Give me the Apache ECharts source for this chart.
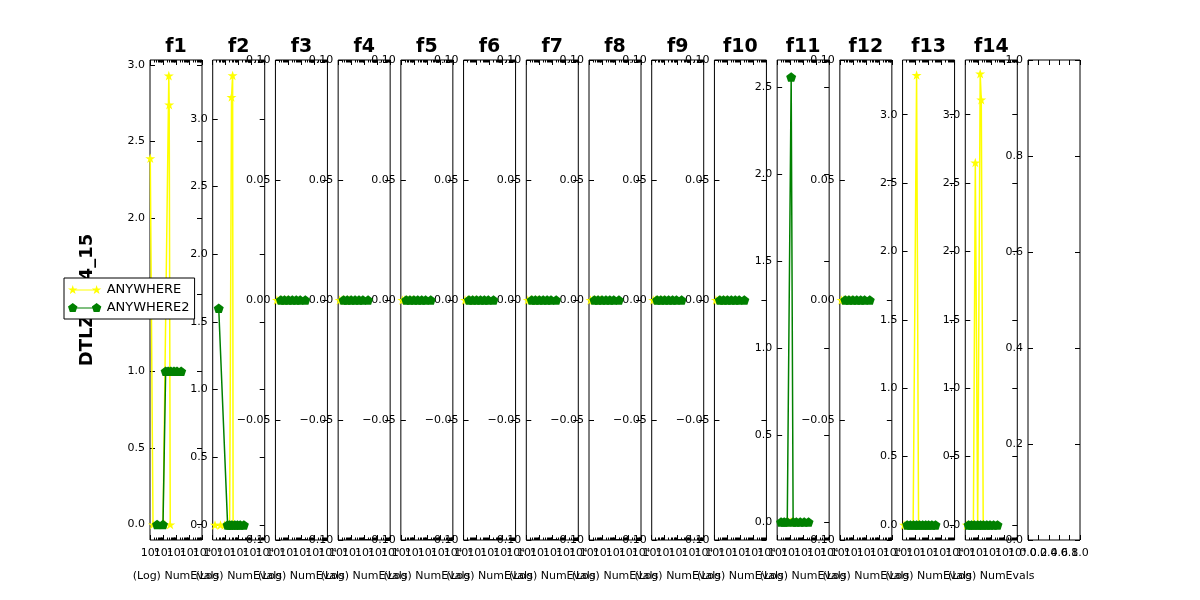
<!DOCTYPE html>
<html><head><meta charset="utf-8">
<script src="https://cdn.jsdelivr.net/npm/echarts@6/dist/echarts.min.js"></script>
<style>html,body{margin:0;padding:0;background:#fff}#c{width:1200px;height:600px}</style>
</head><body><div id="c"></div>
<script>
// ---------------- data ----------------
const panelTitles = ['f1','f2','f3','f4','f5','f6','f7','f8','f9','f10','f11','f12','f13','f14'];
const seriesNames = ['ANYWHERE','ANYWHERE2'];
const xTickLabels = ['10\u2070','10\u00b9','10\u00b2','10\u00b3','10\u2074'];
const xAxisName = '(Log) NumEvals';
const figureLabel = 'DTLZ10_4_15';

// [numEvals, value] pairs
const f1Anywhere  = [[1.05,2.39],[1.7,0],[10,0],[14,0],[28,2.93],[30,2.74],[36,0]];
const f1Anywhere2 = [[3.5,0],[10,0],[16,1],[25,1],[40,1],[70,1],[120,1],[250,1]];
const f2Anywhere  = [[1.5,0],[4,0],[8,0],[20,0],[28,3.16],[34,3.32],[37,0]];
const f2Anywhere2 = [[2.9,1.6],[14,0],[20,0],[30,0],[50,0],[80,0],[130,0],[250,0]];
const f3Anywhere  = [[1.3,0],[2,0],[3,0],[5,0],[8,0]];
const f3Anywhere2 = [[2.6,0],[5,0],[10,0],[20,0],[40,0],[80,0],[200,0]];
const f4Anywhere  = [[1.3,0],[2,0],[3,0],[5,0],[8,0]];
const f4Anywhere2 = [[2.6,0],[5,0],[10,0],[20,0],[40,0],[80,0],[200,0]];
const f5Anywhere  = [[1.3,0],[2,0],[3,0],[5,0],[8,0]];
const f5Anywhere2 = [[2.6,0],[5,0],[10,0],[20,0],[40,0],[80,0],[200,0]];
const f6Anywhere  = [[1.3,0],[2,0],[3,0],[5,0],[8,0]];
const f6Anywhere2 = [[2.6,0],[5,0],[10,0],[20,0],[40,0],[80,0],[200,0]];
const f7Anywhere  = [[1.3,0],[2,0],[3,0],[5,0],[8,0]];
const f7Anywhere2 = [[2.6,0],[5,0],[10,0],[20,0],[40,0],[80,0],[200,0]];
const f8Anywhere  = [[1.3,0],[2,0],[3,0],[5,0],[8,0]];
const f8Anywhere2 = [[2.6,0],[5,0],[10,0],[20,0],[40,0],[80,0],[200,0]];
const f9Anywhere  = [[1.3,0],[2,0],[3,0],[5,0],[8,0]];
const f9Anywhere2 = [[2.6,0],[5,0],[10,0],[20,0],[40,0],[80,0],[200,0]];
const f10Anywhere  = [[1.3,0],[2,0],[3,0],[5,0],[8,0]];
const f10Anywhere2 = [[2.6,0],[5,0],[10,0],[20,0],[40,0],[80,0],[200,0]];
const f11Anywhere  = [[8,0],[11,0],[13,0]];
const f11Anywhere2 = [[2,0],[3.5,0],[6,0],[12,2.557],[17,0],[30,0],[60,0],[120,0],[260,0]];
const f12Anywhere  = [[1.3,0],[2,0],[3,0],[5,0],[8,0]];
const f12Anywhere2 = [[2.6,0],[5,0],[10,0],[20,0],[40,0],[80,0],[200,0]];
const f13Anywhere  = [[1.3,0],[2,0],[6.5,0],[12,3.29],[17,0],[20,0]];
const f13Anywhere2 = [[2.3,0],[4,0],[7,0],[12,0],[20,0],[35,0],[60,0],[100,0],[180,0],[340,0]];
const f14Anywhere  = [[1.3,0],[2,0],[4.2,0],[5.9,2.65],[9,0],[14,3.30],[17,3.11],[24,0]];
const f14Anywhere2 = [[1.8,0],[3,0],[5,0],[9,0],[15,0],[25,0],[45,0],[80,0],[150,0],[300,0]];

// y-axis ranges and tick values per panel (f1..f14, then empty 15th panel)
const yMin = [-0.101,-0.111,-0.1,-0.1,-0.1,-0.1,-0.1,-0.1,-0.1,-0.1,-0.103,-0.1,-0.11,-0.11,0];
const yMax = [3.032,3.434,0.1,0.1,0.1,0.1,0.1,0.1,0.1,0.1,2.655,0.1,3.40,3.40,1];
const yTicksA = [0,0.5,1,1.5,2,2.5,3];
const yTicksZero = [-0.1,-0.05,0,0.05,0.1];
const yTicksF11 = [0,0.5,1,1.5,2,2.5];
const yTicksUnit = [0,0.2,0.4,0.6,0.8,1];
const yTickSets = [yTicksA,yTicksA,yTicksZero,yTicksZero,yTicksZero,yTicksZero,yTicksZero,yTicksZero,yTicksZero,yTicksZero,yTicksF11,yTicksZero,yTicksA,yTicksA,yTicksUnit];
const yDecimals = [1,1,2,2,2,2,2,2,2,2,1,2,1,1,1];
const xTicksUnit = [0,0.2,0.4,0.6,0.8,1];
const xDecadeExps = [0,1,2,3,4];

const panelData = [
  [f1Anywhere,f1Anywhere2],[f2Anywhere,f2Anywhere2],[f3Anywhere,f3Anywhere2],[f4Anywhere,f4Anywhere2],
  [f5Anywhere,f5Anywhere2],[f6Anywhere,f6Anywhere2],[f7Anywhere,f7Anywhere2],[f8Anywhere,f8Anywhere2],
  [f9Anywhere,f9Anywhere2],[f10Anywhere,f10Anywhere2],[f11Anywhere,f11Anywhere2],[f12Anywhere,f12Anywhere2],
  [f13Anywhere,f13Anywhere2],[f14Anywhere,f14Anywhere2]
];

// ---------------- styling ----------------
const FONT = 'DejaVu Sans';
const colors = ['#ffff00','#008000'];
function polyPts(cx,cy,r,n,inner){
  const pts=[]; const m = inner ? n*2 : n;
  for(let k=0;k<m;k++){
    const rr = inner ? (k%2===0 ? r : r*inner) : r;
    const a = -Math.PI/2 + k*2*Math.PI/m;
    pts.push((cx+rr*Math.cos(a)).toFixed(3)+','+(cy+rr*Math.sin(a)).toFixed(3));
  }
  return 'M'+pts.join('L')+'Z';
}
const starSym = 'path://'+polyPts(50,50,50,5,0.382);
const pentSym = 'path://'+polyPts(50,50,50,5,0);
const starIcon = 'path://'+polyPts(5,5,5,5,0.382)+'M5,4.4L29,4.4L29,5.6L5,5.6Z'+polyPts(29,5,5,5,0.382);
const pentIcon = 'path://'+polyPts(5,5,5,5,0)+'M5,4.4L29,4.4L29,5.6L5,5.6Z'+polyPts(29,5,5,5,0);
const symbols = [starSym,pentSym];

function fmtY(v,d){ return (v<0?'\u2212':'')+Math.abs(v).toFixed(d); }
const minorExp = [];
for(let k=0;k<4;k++){ for(let m=2;m<=9;m++){ minorExp.push(Math.log10(m*Math.pow(10,k))); } }

const N = 15, left0 = 150, step = 878/14, W = 52, TOP = 60, H = 480;
const grids=[], xAxes=[], yAxes=[], series=[], graphics=[];
const tickStyle = {color:'#000', width:1};
const noLine = {show:false, onZero:false};
const labelBase = {show:true, margin:8, fontSize:11, color:'#000', fontFamily:FONT, showMinLabel:true, showMaxLabel:true, hideOverlap:false};
function tickAxis(i,pos,min,max,vals,len,extra){
  return Object.assign({type:'value', gridIndex:i, position:pos, min:min, max:max,
    axisLine:noLine, splitLine:{show:false},
    axisTick:{show:true, inside:true, length:len, lineStyle:tickStyle, customValues:vals},
    axisLabel:{show:false}, silent:true}, extra||{});
}
// one axis per tick label so that overlapping labels are all kept (as in the reference)
function labelAxis(i,min,max,val,text,extra){
  return Object.assign({type:'value', gridIndex:i, position:'bottom', min:min, max:max,
    axisLine:noLine, splitLine:{show:false}, axisTick:{show:false},
    axisLabel:Object.assign({}, labelBase, {customValues:[val], formatter:()=>text}), silent:true}, extra||{});
}
for(let i=0;i<N;i++){
  const left = left0 + i*step;
  grids.push({left:left, top:TOP, width:W, height:H, show:true, borderColor:'#000', borderWidth:1, backgroundColor:'rgba(0,0,0,0)'});
  const yl = yAxes.length;
  const ticks = yTickSets[i], dec = yDecimals[i];
  yAxes.push({type:'value', gridIndex:i, position:'left', min:yMin[i], max:yMax[i],
    axisLine:noLine, splitLine:{show:false},
    axisTick:{show:true, inside:true, length:5, lineStyle:tickStyle, customValues:ticks},
    axisLabel:{show:true, margin:5, fontSize:11, color:'#000', fontFamily:FONT, customValues:ticks, showMinLabel:true, showMaxLabel:true, hideOverlap:false, formatter:v=>fmtY(v,dec)}});
  yAxes.push({type:'value', gridIndex:i, position:'right', min:yMin[i], max:yMax[i],
    axisLine:noLine, splitLine:{show:false}, axisLabel:{show:false},
    axisTick:{show:true, inside:true, length:5, lineStyle:tickStyle, customValues:ticks}});
  if(i<14){
    const xl = xAxes.length;
    xAxes.push({type:'log', logBase:10, gridIndex:i, position:'bottom', min:1, max:10000, show:false,
      axisLine:noLine, splitLine:{show:false}, axisTick:{show:false}, axisLabel:{show:false}});
    xAxes.push(tickAxis(i,'bottom',0,4,xDecadeExps,5,
      {name:xAxisName, nameLocation:'middle', nameGap:31, nameTextStyle:{fontSize:11, color:'#000', fontFamily:FONT}}));
    xAxes.push(tickAxis(i,'top',0,4,xDecadeExps,5));
    xAxes.push(tickAxis(i,'bottom',0,4,minorExp,2.5));
    xAxes.push(tickAxis(i,'top',0,4,minorExp,2.5));
    xDecadeExps.forEach((e,k)=>xAxes.push(labelAxis(i,0,4,e,xTickLabels[k])));
    for(let s=0;s<2;s++){
      series.push({type:'line', name:seriesNames[s], xAxisIndex:xl, yAxisIndex:yl, data:panelData[i][s],
        symbol:symbols[s], symbolSize:10, symbolKeepAspect:true, showSymbol:true, showAllSymbol:true,
        lineStyle:{color:colors[s], width:1.5}, itemStyle:{color:colors[s], borderWidth:0},
        emphasis:{disabled:true}, clip:true, z:2+s, animation:false});
    }
    graphics.push({type:'text', x:left+W/2, y:47, z:5,
      style:{text:panelTitles[i], font:'bold 19px "DejaVu Sans"', fill:'#000', align:'center', verticalAlign:'middle'}});
  } else {
    xAxes.push(tickAxis(i,'bottom',0,1,xTicksUnit,5));
    xAxes.push(tickAxis(i,'top',0,1,xTicksUnit,5));
    xTicksUnit.forEach(v=>xAxes.push(labelAxis(i,0,1,v,v.toFixed(1))));
  }
}
graphics.push({type:'text', x:87, y:300, rotation:Math.PI/2, z:1,
  style:{text:figureLabel, font:'bold 18px "DejaVu Sans"', fill:'#000', align:'center', verticalAlign:'middle'}});

const chart = echarts.init(document.getElementById('c'), null, {renderer:'canvas'});
chart.setOption({
  animation:false,
  backgroundColor:'#fff',
  textStyle:{fontFamily:FONT},
  grid:grids, xAxis:xAxes, yAxis:yAxes, series:series, graphic:graphics,
  legend:{show:true, left:64, top:278, orient:'vertical', z:10, zlevel:0,
    backgroundColor:'#fff', borderColor:'#000', borderWidth:1, borderRadius:0,
    padding:[5,5,5,4], itemGap:5, itemWidth:34, itemHeight:9, selectedMode:false,
    textStyle:{fontSize:13, color:'#000', fontFamily:FONT},
    data:[{name:seriesNames[0], icon:starIcon},{name:seriesNames[1], icon:pentIcon}]}
});
</script></body></html>
